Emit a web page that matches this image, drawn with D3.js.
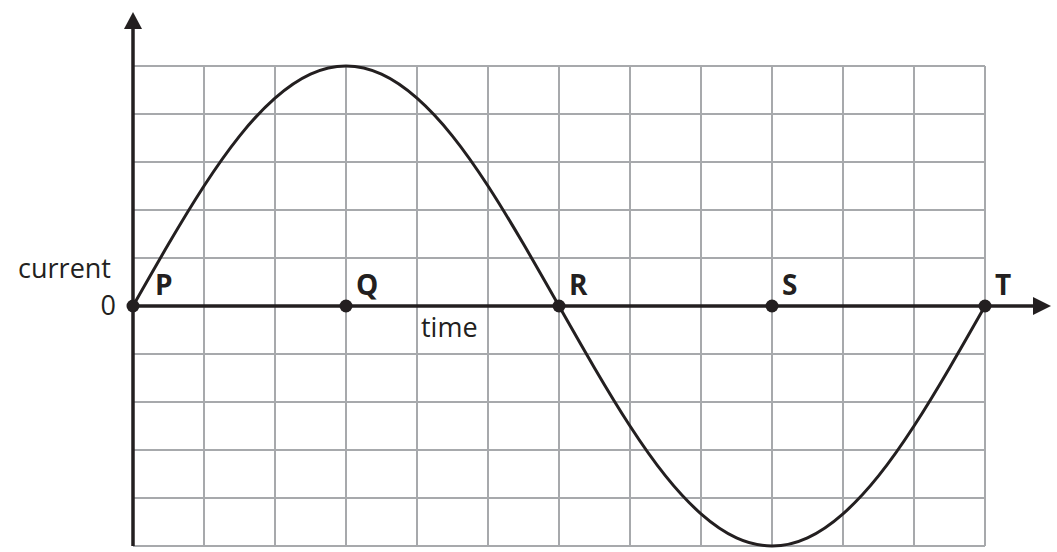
<!DOCTYPE html>
<html>
<head>
    <meta charset="utf-8">
    <title>current against time</title>
    <script src="https://d3js.org/d3.v7.min.js"></script>
    <style>
        body { margin: 0; background: #fff; }
        text { font-family: "Open Sans", sans-serif; fill: #231f20; }
    </style>
</head>
<body>
    <script>
        // curve, one value every half grid column
        const times = [0, 0.5, 1, 1.5, 2, 2.5, 3, 3.5, 4, 4.5, 5, 5.5, 6,
            6.5, 7, 7.5, 8, 8.5, 9, 9.5, 10, 10.5, 11, 11.5, 12];
        const currents = [0, 1.29, 2.5, 3.54, 4.33, 4.83, 5, 4.83, 4.33, 3.54, 2.5, 1.29, 0,
            -1.29, -2.5, -3.54, -4.33, -4.83, -5, -4.83, -4.33, -3.54, -2.5, -1.29, 0];

        const pointLabels = ["P", "Q", "R", "S", "T"];
        const pointTimes = [0, 3, 6, 9, 12];

        const gridCols = [0, 1, 2, 3, 4, 5, 6, 7, 8, 9, 10, 11, 12];
        const gridRows = [-5, -4, -3, -2, -1, 0, 1, 2, 3, 4, 5];

        const width = 1057;
        const height = 552;
        const dark = "#231f20";
        const grey = "#a7a9ac";

        const x = d3.scaleLinear().domain([0, 12]).range([133, 985]);
        const y = d3.scaleLinear().domain([-5, 5]).range([546, 66]);

        const svg = d3.select("body").append("svg")
            .attr("width", width)
            .attr("height", height);

        // grid
        svg.append("g").selectAll("line").data(gridCols).join("line")
            .attr("x1", d => x(d)).attr("x2", d => x(d))
            .attr("y1", y(5)).attr("y2", y(-5))
            .attr("stroke", grey).attr("stroke-width", 2);
        svg.append("g").selectAll("line").data(gridRows).join("line")
            .attr("x1", x(0)).attr("x2", x(12))
            .attr("y1", d => y(d)).attr("y2", d => y(d))
            .attr("stroke", grey).attr("stroke-width", 2);

        // axes with arrow heads
        svg.append("line")
            .attr("x1", x(0)).attr("x2", x(0))
            .attr("y1", y(-5)).attr("y2", 28)
            .attr("stroke", dark).attr("stroke-width", 3.5);
        svg.append("path")
            .attr("d", `M${x(0) - 9},29 L${x(0)},12 L${x(0) + 9},29 Z`)
            .attr("fill", dark);

        svg.append("line")
            .attr("x1", x(0)).attr("x2", 1034)
            .attr("y1", y(0)).attr("y2", y(0))
            .attr("stroke", dark).attr("stroke-width", 3.5);
        svg.append("path")
            .attr("d", `M1033,${y(0) - 9} L1051,${y(0)} L1033,${y(0) + 9} Z`)
            .attr("fill", dark);

        // the wave
        const line = d3.line()
            .x((d, i) => x(times[i]))
            .y(d => y(d))
            .curve(d3.curveNatural);
        svg.append("path")
            .datum(currents)
            .attr("fill", "none")
            .attr("stroke", dark)
            .attr("stroke-width", 3)
            .attr("d", line);

        // labelled points on the time axis
        svg.append("g").selectAll("circle").data(pointTimes).join("circle")
            .attr("cx", d => x(d)).attr("cy", y(0))
            .attr("r", 6.5).attr("fill", dark);
        svg.append("g").selectAll("text").data(pointLabels).join("text")
            .attr("x", (d, i) => x(pointTimes[i]) + (i === 0 ? 22 : 10))
            .attr("y", 295)
            .style("font-size", "28px")
            .style("font-weight", "bold")
            .text(d => d);

        // axis texts
        svg.append("text")
            .attr("x", 111).attr("y", 278)
            .attr("text-anchor", "end")
            .style("font-size", "27px")
            .text("current");
        svg.append("text")
            .attr("x", 116).attr("y", 315)
            .attr("text-anchor", "end")
            .style("font-size", "27px")
            .text("0");
        svg.append("text")
            .attr("x", 421).attr("y", 337)
            .style("font-size", "27px")
            .text("time");
    </script>
</body>
</html>
